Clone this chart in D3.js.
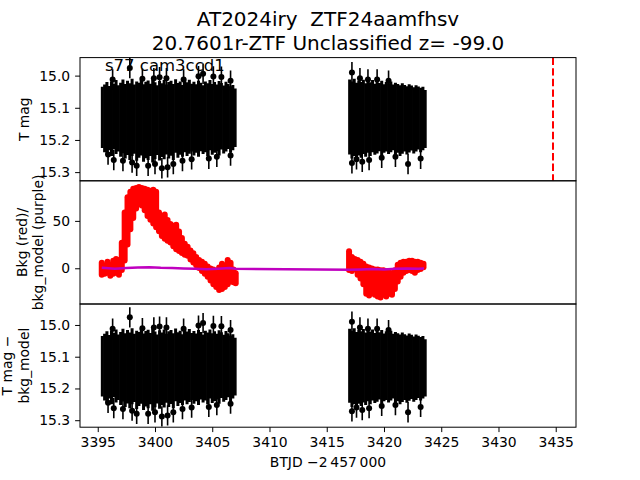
<!DOCTYPE html>
<html><head><meta charset="utf-8">
<script src="https://cdn.jsdelivr.net/npm/d3@7"></script>
<style>body{margin:0;background:#fff} text{font-family:"DejaVu Sans",sans-serif;white-space:pre}</style>
</head><body><svg id="c" width="640" height="480"></svg>
<script>
// ---------------- DATA ----------------
const titleLines = ["AT2024iry  ZTF24aamfhsv", "20.7601r-ZTF Unclassified z= -99.0"];
const sectorLabel = "s77 cam3ccd1";
const xTicks = [3395, 3400, 3405, 3410, 3415, 3420, 3425, 3430, 3435];
const magTicks = [15.0, 15.1, 15.2, 15.3];
const bkgTicks = [0, 50];
const markerTime = 3434.76;

// light curve (binned extent of points incl. error bars), segment 1
const t1 = [3395.4,3395.6,3395.8,3396.0,3396.2,3396.4,3396.6,3396.8,3397.0,3397.2,
  3397.4,3397.6,3397.8,3398.0,3398.2,3398.4,3398.6,3398.8,3399.0,3399.2,
  3399.4,3399.6,3399.8,3400.0,3400.2,3400.4,3400.6,3400.8,3401.0,3401.2,
  3401.4,3401.6,3401.8,3402.0,3402.2,3402.4,3402.6,3402.8,3403.0,3403.2,
  3403.4,3403.6,3403.8,3404.0,3404.2,3404.4,3404.6,3404.8,3405.0,3405.2,
  3405.4,3405.6,3405.8,3406.0,3406.2,3406.4,3406.6,3406.8,3407.0];
const hi1 = [15.035,15.028,15.020,15.032,15.018,15.025,15.014,15.030,15.022,15.012,
  15.026,15.016,15.024,15.010,15.028,15.018,15.022,15.013,15.027,15.019,
  15.015,15.025,15.012,15.021,15.030,15.017,15.024,15.014,15.028,15.020,
  15.016,15.026,15.011,15.023,15.018,15.029,15.015,15.021,15.013,15.025,
  15.019,15.027,15.016,15.022,15.030,15.018,15.024,15.014,15.026,15.020,
  15.028,15.017,15.023,15.031,15.019,15.026,15.033,15.029,15.040];
const lo1 = [15.225,15.238,15.245,15.232,15.250,15.228,15.244,15.236,15.252,15.241,
  15.258,15.247,15.262,15.250,15.243,15.265,15.255,15.248,15.268,15.257,
  15.262,15.250,15.270,15.259,15.247,15.264,15.253,15.260,15.245,15.258,
  15.249,15.262,15.240,15.255,15.246,15.252,15.238,15.250,15.243,15.236,
  15.248,15.240,15.252,15.235,15.244,15.238,15.250,15.232,15.246,15.240,
  15.235,15.248,15.230,15.242,15.236,15.228,15.240,15.232,15.222];
// segment 2
const t2 = [3417.0,3417.2,3417.4,3417.6,3417.8,3418.0,3418.2,3418.4,3418.6,3418.8,
  3419.0,3419.2,3419.4,3419.6,3419.8,3420.0,3420.2,3420.4,3420.6,3420.8,
  3421.0,3421.2,3421.4,3421.6,3421.8,3422.0,3422.2,3422.4,3422.6,3422.8,
  3423.0,3423.2,3423.4,3423.6];
const hi2 = [15.012,15.018,15.010,15.022,15.015,15.020,15.013,15.024,15.017,15.021,
  15.014,15.025,15.019,15.023,15.016,15.027,15.020,15.024,15.018,15.028,
  15.022,15.026,15.030,15.024,15.029,15.033,15.027,15.031,15.036,15.030,
  15.034,15.038,15.035,15.045];
const lo2 = [15.245,15.258,15.250,15.262,15.248,15.255,15.244,15.252,15.240,15.250,
  15.238,15.246,15.242,15.235,15.248,15.240,15.236,15.244,15.238,15.232,
  15.246,15.240,15.250,15.243,15.236,15.245,15.239,15.233,15.242,15.236,
  15.230,15.238,15.232,15.225];
// individual outlying points
const outT = [3396.3,3397.8,3398.9,3399.9,3400.4,3401.0,3402.5,3403.8,3404.2,3405.1,3405.8,3406.6,
  3395.9,3396.4,3397.2,3398.0,3398.4,3399.4,3400.0,3400.6,3401.1,3401.6,3402.4,3403.2,3404.7,3405.4,3406.6,
  3417.2,3417.9,3418.6,3419.4,3420.4,
  3417.2,3417.6,3418.1,3418.7,3419.8,3421.0,3422.1,3423.2];
const outM = [15.012,14.976,15.010,15.008,15.005,15.008,15.012,15.002,14.994,15.003,15.004,15.016,
  15.245,15.262,15.265,15.270,15.280,15.280,15.275,15.288,15.285,15.275,15.265,15.260,15.258,15.252,15.248,
  14.990,15.008,15.012,15.012,15.016,
  15.272,15.260,15.268,15.262,15.255,15.252,15.275,15.258];

// background flux (red), binned extent, segment 1 and 2
const bt = [3395.35,3395.6,3395.85,3396.1,3396.35,3396.6,3396.85,3397.1,3397.35,3397.6,
  3397.85,3398.1,3398.35,3398.6,3398.85,3399.1,3399.35,3399.6,3399.85,3400.1,
  3400.35,3400.6,3400.85,3401.1,3401.35,3401.6,3401.85,3402.1,3402.35,3402.6,
  3402.85,3403.1,3403.35,3403.6,3403.85,3404.1,3404.35,3404.6,3404.85,3405.1,
  3405.35,3405.6,3405.85,3406.1,3406.35,3406.6,3406.85,3407.05,
  3416.95,3417.2,3417.45,3417.7,3417.95,3418.2,3418.45,3418.7,3418.95,3419.2,
  3419.45,3419.7,3419.95,3420.2,3420.45,3420.7,3420.95,3421.2,3421.45,3421.7,
  3421.95,3422.2,3422.45,3422.7,3422.95,3423.2,3423.45];
const bhi = [9,6,10,7,11,13,12,30,62,78,
  84,87,88,89,88,87,86,85,86,84,
  62,58,60,54,50,48,49,42,35,29,
  26,22,19,15,12,10,8,5,3,2,
  0,4,8,6,12,9,2,-2,
  21,15,13,12,10,8,5,4,3,2,
  2,1,1,0,-1,-2,1,7,9,10,
  10,11,11,10,10,9,8];
const blo = [-10,-9,-8,-11,-9,-8,-10,-5,5,22,
  38,50,60,68,63,58,52,48,44,40,
  36,31,28,26,24,20,17,15,13,11,
  10,6,3,0,-3,-6,-9,-12,-16,-20,
  -23,-26,-25,-23,-20,-17,-18,-19,
  -5,-6,-4,-10,-14,-20,-30,-32,-29,-31,
  -33,-34,-31,-33,-30,-31,-25,-17,-12,-8,
  -6,-5,-6,-8,-5,-4,-2];
// background model (purple)
const mt = [3395.35,3396.5,3397.5,3398.5,3399.5,3400.5,3401.5,3402.5,3403.5,3404.5,3405.5,3406.5,3407.05,
  3417.0,3418.0,3419.0,3420.0,3421.0,3422.0,3423.0,3423.5];
const mv = [0.5,-0.5,0.3,0.8,1.2,0.6,0.4,-0.2,-0.6,-1.0,-0.4,0.2,-0.5,
  -1.5,-1.2,-0.8,-1.3,-0.6,-0.2,-0.4,-0.3];

// ---------------- DRAW ----------------
const svg = d3.select("#c");
const L = 80, R = 576;
const P = [{t:57.6,b:180.8},{t:180.8,b:304},{t:304,b:427.2}];
const x = d3.scaleLinear().domain([3393.45, 3436.77]).range([L, R]);
const y1 = d3.scaleLinear().domain([14.944, 15.327]).range([P[0].t, P[0].b]);
const y2 = d3.scaleLinear().domain([-37.7, 92.3]).range([P[1].b, P[1].t]);
const y3 = d3.scaleLinear().domain([14.934, 15.322]).range([P[2].t, P[2].b]);
const FS = "13.9px";

const defs = svg.append("defs");
P.forEach((p,i)=>{
  defs.append("clipPath").attr("id","cp"+i).append("rect")
    .attr("x",L).attr("y",p.t).attr("width",R-L).attr("height",p.b-p.t);
});

function lightCurve(g, y){
  const segs = [[t1,hi1,lo1],[t2,hi2,lo2]];
  segs.forEach(([t,h,l])=>{
    g.selectAll(null).data(t).enter().append("line")
      .attr("x1",(d)=>x(d)).attr("x2",(d)=>x(d))
      .attr("y1",(d,i)=>y(h[i])).attr("y2",(d,i)=>y(l[i]))
      .attr("stroke","#000").attr("stroke-width",3);
  });
  g.selectAll(null).data(outT).enter().append("line")
    .attr("x1",d=>x(d)).attr("x2",d=>x(d))
    .attr("y1",(d,i)=>y(outM[i]-0.032)).attr("y2",(d,i)=>y(outM[i]+0.032))
    .attr("stroke","#000").attr("stroke-width",1.6);
  g.selectAll(null).data(outT).enter().append("circle")
    .attr("cx",d=>x(d)).attr("cy",(d,i)=>y(outM[i])).attr("r",3).attr("fill","#000");
}

// panel 1
const g1 = svg.append("g").attr("clip-path","url(#cp0)");
lightCurve(g1, y1);
g1.append("line").attr("x1",x(markerTime)).attr("x2",x(markerTime))
  .attr("y1",P[0].t).attr("y2",P[0].b).attr("stroke","#ff0000").attr("stroke-width",2)
  .attr("stroke-dasharray","7.4,3.2");

// panel 2
const g2 = svg.append("g").attr("clip-path","url(#cp1)");
g2.selectAll(null).data(bt).enter().append("line")
  .attr("x1",d=>x(d)).attr("x2",d=>x(d))
  .attr("y1",(d,i)=>{const a=y2(bhi[i]), b=y2(blo[i]); return Math.min(a+3,(a+b)/2);})
  .attr("y2",(d,i)=>{const a=y2(bhi[i]), b=y2(blo[i]); return Math.max(b-3,(a+b)/2);})
  .attr("stroke","#ff0000").attr("stroke-width",6).attr("stroke-linecap","round");
g2.append("path").datum(mt)
  .attr("d", d3.line().x(d=>x(d)).y((d,i)=>y2(mv[i])))
  .attr("fill","none").attr("stroke","#bf00bf").attr("stroke-width",2.5);

// panel 3
const g3 = svg.append("g").attr("clip-path","url(#cp2)");
lightCurve(g3, y3);

// frames
P.forEach(p=>{
  svg.append("rect").attr("x",L).attr("y",p.t).attr("width",R-L).attr("height",p.b-p.t)
    .attr("fill","none").attr("stroke","#000").attr("stroke-width",1);
});

function styleAxis(g){
  g.select(".domain").remove();
  g.selectAll(".tick line").attr("stroke","#000").attr("stroke-width",1);
  g.selectAll(".tick text").attr("fill","#000").style("font-size",FS).style("font-family","DejaVu Sans");
}
svg.append("g").attr("transform",`translate(${L},0)`)
  .call(d3.axisLeft(y1).tickValues(magTicks).tickFormat(d3.format(".1f")).tickSize(4.9).tickPadding(4.9)).call(styleAxis);
svg.append("g").attr("transform",`translate(${L},0)`)
  .call(d3.axisLeft(y2).tickValues(bkgTicks).tickFormat(d3.format("d")).tickSize(4.9).tickPadding(4.9)).call(styleAxis);
svg.append("g").attr("transform",`translate(${L},0)`)
  .call(d3.axisLeft(y3).tickValues(magTicks).tickFormat(d3.format(".1f")).tickSize(4.9).tickPadding(4.9)).call(styleAxis);
const xa = svg.append("g").attr("transform",`translate(0,${P[2].b})`)
  .call(d3.axisBottom(x).tickValues(xTicks).tickFormat(d3.format("d")).tickSize(4.9).tickPadding(4.9)).call(styleAxis);
xa.selectAll(".tick text").attr("dy",null).attr("y",20.3);

// texts
svg.append("text").attr("x",328).attr("y",26).attr("text-anchor","middle").style("font-size","20px").text(titleLines[0]);
svg.append("text").attr("x",328).attr("y",50).attr("text-anchor","middle").style("font-size","20px").text(titleLines[1]);
svg.append("text").attr("x",105).attr("y",71).style("font-size","16.5px").text(sectorLabel);
svg.append("text").attr("x",328).attr("y",467).attr("text-anchor","middle").style("font-size",FS).text("BTJD \u22122\u2009457\u2009000");

function ylab(lines, bases, cy){
  lines.forEach((s,i)=>{
    svg.append("text").attr("transform",`translate(${bases[i]},${cy}) rotate(-90)`)
      .attr("text-anchor","middle").style("font-size",FS).text(s);
  });
}
ylab(["T mag"],[29],(P[0].t+P[0].b)/2);
ylab(["Bkg (red)/","bkg_model (purple)"],[26.5,42.5],(P[1].t+P[1].b)/2);
ylab(["T mag \u2212","bkg_model"],[12,28.7],(P[2].t+P[2].b)/2);
</script></body></html>
